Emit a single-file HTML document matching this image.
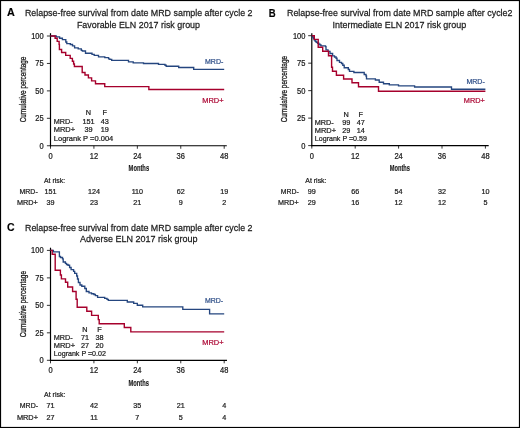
<!DOCTYPE html>
<html><head><meta charset="utf-8"><style>
html,body{margin:0;padding:0;background:#fff;}
body{width:520px;height:428px;overflow:hidden;}
svg{display:block;font-family:"Liberation Sans", sans-serif;will-change:transform;}
</style></head><body>
<svg width="520" height="428" viewBox="0 0 520 428">
<rect x="0" y="0" width="520" height="428" fill="#fff"/>
<text transform="translate(7.00,16.35) scale(1,1.08)" font-size="10.6" text-anchor="start" fill="#000" font-weight="bold" textLength="7.80" lengthAdjust="spacingAndGlyphs" stroke="#000" stroke-width="0.15">A</text>
<text transform="translate(24.90,16.45) scale(1,1.14)" font-size="8.7" text-anchor="start" fill="#1c1c1c" font-weight="normal" textLength="227.60" lengthAdjust="spacingAndGlyphs" stroke="#1c1c1c" stroke-width="0.22">Relapse-free survival from date MRD sample after cycle 2</text>
<text transform="translate(76.90,27.70) scale(1,1.14)" font-size="8.7" text-anchor="start" fill="#1c1c1c" font-weight="normal" textLength="123.10" lengthAdjust="spacingAndGlyphs" stroke="#1c1c1c" stroke-width="0.22">Favorable ELN 2017 risk group</text>
<line x1="50.50" y1="33.20" x2="50.50" y2="146.35" stroke="#000" stroke-width="1.2"/>
<line x1="49.90" y1="145.75" x2="226.80" y2="145.75" stroke="#000" stroke-width="1.2"/>
<line x1="46.90" y1="145.75" x2="50.50" y2="145.75" stroke="#000" stroke-width="0.8"/>
<text transform="translate(43.70,148.65) scale(1,1.1)" font-size="7.5" text-anchor="end" fill="#1c1c1c" font-weight="normal" stroke="#1c1c1c" stroke-width="0.22">0</text>
<line x1="46.90" y1="118.31" x2="50.50" y2="118.31" stroke="#000" stroke-width="0.8"/>
<text transform="translate(43.70,121.21) scale(1,1.1)" font-size="7.5" text-anchor="end" fill="#1c1c1c" font-weight="normal" stroke="#1c1c1c" stroke-width="0.22">25</text>
<line x1="46.90" y1="90.88" x2="50.50" y2="90.88" stroke="#000" stroke-width="0.8"/>
<text transform="translate(43.70,93.78) scale(1,1.1)" font-size="7.5" text-anchor="end" fill="#1c1c1c" font-weight="normal" stroke="#1c1c1c" stroke-width="0.22">50</text>
<line x1="46.90" y1="63.44" x2="50.50" y2="63.44" stroke="#000" stroke-width="0.8"/>
<text transform="translate(43.70,66.34) scale(1,1.1)" font-size="7.5" text-anchor="end" fill="#1c1c1c" font-weight="normal" stroke="#1c1c1c" stroke-width="0.22">75</text>
<line x1="46.90" y1="36.00" x2="50.50" y2="36.00" stroke="#000" stroke-width="0.8"/>
<text transform="translate(43.70,38.90) scale(1,1.1)" font-size="7.5" text-anchor="end" fill="#1c1c1c" font-weight="normal" stroke="#1c1c1c" stroke-width="0.22">100</text>
<line x1="50.50" y1="145.75" x2="50.50" y2="148.75" stroke="#000" stroke-width="0.8"/>
<text transform="translate(50.50,158.50) scale(1,1.1)" font-size="7.5" text-anchor="middle" fill="#1c1c1c" font-weight="normal" stroke="#1c1c1c" stroke-width="0.22">0</text>
<line x1="93.92" y1="145.75" x2="93.92" y2="148.75" stroke="#000" stroke-width="0.8"/>
<text transform="translate(93.92,158.50) scale(1,1.1)" font-size="7.5" text-anchor="middle" fill="#1c1c1c" font-weight="normal" stroke="#1c1c1c" stroke-width="0.22">12</text>
<line x1="137.35" y1="145.75" x2="137.35" y2="148.75" stroke="#000" stroke-width="0.8"/>
<text transform="translate(137.35,158.50) scale(1,1.1)" font-size="7.5" text-anchor="middle" fill="#1c1c1c" font-weight="normal" stroke="#1c1c1c" stroke-width="0.22">24</text>
<line x1="180.78" y1="145.75" x2="180.78" y2="148.75" stroke="#000" stroke-width="0.8"/>
<text transform="translate(180.78,158.50) scale(1,1.1)" font-size="7.5" text-anchor="middle" fill="#1c1c1c" font-weight="normal" stroke="#1c1c1c" stroke-width="0.22">36</text>
<line x1="224.20" y1="145.75" x2="224.20" y2="148.75" stroke="#000" stroke-width="0.8"/>
<text transform="translate(224.20,158.50) scale(1,1.1)" font-size="7.5" text-anchor="middle" fill="#1c1c1c" font-weight="normal" stroke="#1c1c1c" stroke-width="0.22">48</text>
<text transform="translate(128.60,171.20) scale(1,1.0)" font-size="8.8" text-anchor="start" fill="#1a1a1a" font-weight="bold" textLength="20.50" lengthAdjust="spacingAndGlyphs" stroke="#1a1a1a" stroke-width="0.15">Months</text>
<text transform="translate(26.30,122.30) rotate(-90)" x="0" y="0" font-size="8.7" fill="#1c1c1c" stroke="#1c1c1c" stroke-width="0.3" textLength="65.60" lengthAdjust="spacingAndGlyphs">Cumulative percentage</text>
<text transform="translate(88.50,115.10) scale(1,1.1)" font-size="7.3" text-anchor="middle" fill="#1c1c1c" font-weight="normal" stroke="#1c1c1c" stroke-width="0.22">N</text>
<text transform="translate(104.80,115.10) scale(1,1.1)" font-size="7.3" text-anchor="middle" fill="#1c1c1c" font-weight="normal" stroke="#1c1c1c" stroke-width="0.22">F</text>
<text transform="translate(53.80,124.20) scale(1,1.1)" font-size="7.3" text-anchor="start" fill="#1c1c1c" font-weight="normal" textLength="18.90" lengthAdjust="spacingAndGlyphs" stroke="#1c1c1c" stroke-width="0.22">MRD-</text>
<text transform="translate(53.80,131.90) scale(1,1.1)" font-size="7.3" text-anchor="start" fill="#1c1c1c" font-weight="normal" textLength="21.30" lengthAdjust="spacingAndGlyphs" stroke="#1c1c1c" stroke-width="0.22">MRD+</text>
<text transform="translate(88.50,124.20) scale(1,1.1)" font-size="7.3" text-anchor="middle" fill="#1c1c1c" font-weight="normal" stroke="#1c1c1c" stroke-width="0.22">151</text>
<text transform="translate(104.80,124.20) scale(1,1.1)" font-size="7.3" text-anchor="middle" fill="#1c1c1c" font-weight="normal" stroke="#1c1c1c" stroke-width="0.22">43</text>
<text transform="translate(88.50,131.90) scale(1,1.1)" font-size="7.3" text-anchor="middle" fill="#1c1c1c" font-weight="normal" stroke="#1c1c1c" stroke-width="0.22">39</text>
<text transform="translate(104.80,131.90) scale(1,1.1)" font-size="7.3" text-anchor="middle" fill="#1c1c1c" font-weight="normal" stroke="#1c1c1c" stroke-width="0.22">19</text>
<text transform="translate(53.80,140.50) scale(1,1.1)" font-size="7.3" text-anchor="start" fill="#1c1c1c" font-weight="normal" textLength="59.50" lengthAdjust="spacingAndGlyphs" stroke="#1c1c1c" stroke-width="0.22">Logrank P =0.004</text>
<text transform="translate(205.00,64.30) scale(1,1.1)" font-size="7.3" text-anchor="start" fill="#2f4f88" font-weight="normal" textLength="18.30" lengthAdjust="spacingAndGlyphs" stroke="#2f4f88" stroke-width="0.22">MRD-</text>
<text transform="translate(202.20,102.70) scale(1,1.1)" font-size="7.3" text-anchor="start" fill="#ad0a36" font-weight="normal" textLength="21.30" lengthAdjust="spacingAndGlyphs" stroke="#ad0a36" stroke-width="0.22">MRD+</text>
<text transform="translate(44.00,182.80) scale(1,1.1)" font-size="7.2" text-anchor="start" fill="#1c1c1c" font-weight="normal" textLength="21.10" lengthAdjust="spacingAndGlyphs" stroke="#1c1c1c" stroke-width="0.22">At risk:</text>
<text transform="translate(19.50,193.90) scale(1,1.1)" font-size="7.2" text-anchor="start" fill="#1c1c1c" font-weight="normal" textLength="18.20" lengthAdjust="spacingAndGlyphs" stroke="#1c1c1c" stroke-width="0.22">MRD-</text>
<text transform="translate(16.90,204.80) scale(1,1.1)" font-size="7.2" text-anchor="start" fill="#1c1c1c" font-weight="normal" textLength="20.80" lengthAdjust="spacingAndGlyphs" stroke="#1c1c1c" stroke-width="0.22">MRD+</text>
<text transform="translate(50.50,193.90) scale(1,1.1)" font-size="7.2" text-anchor="middle" fill="#1c1c1c" font-weight="normal" stroke="#1c1c1c" stroke-width="0.22">151</text>
<text transform="translate(50.50,204.80) scale(1,1.1)" font-size="7.2" text-anchor="middle" fill="#1c1c1c" font-weight="normal" stroke="#1c1c1c" stroke-width="0.22">39</text>
<text transform="translate(93.92,193.90) scale(1,1.1)" font-size="7.2" text-anchor="middle" fill="#1c1c1c" font-weight="normal" stroke="#1c1c1c" stroke-width="0.22">124</text>
<text transform="translate(93.92,204.80) scale(1,1.1)" font-size="7.2" text-anchor="middle" fill="#1c1c1c" font-weight="normal" stroke="#1c1c1c" stroke-width="0.22">23</text>
<text transform="translate(137.35,193.90) scale(1,1.1)" font-size="7.2" text-anchor="middle" fill="#1c1c1c" font-weight="normal" stroke="#1c1c1c" stroke-width="0.22">110</text>
<text transform="translate(137.35,204.80) scale(1,1.1)" font-size="7.2" text-anchor="middle" fill="#1c1c1c" font-weight="normal" stroke="#1c1c1c" stroke-width="0.22">21</text>
<text transform="translate(180.78,193.90) scale(1,1.1)" font-size="7.2" text-anchor="middle" fill="#1c1c1c" font-weight="normal" stroke="#1c1c1c" stroke-width="0.22">62</text>
<text transform="translate(180.78,204.80) scale(1,1.1)" font-size="7.2" text-anchor="middle" fill="#1c1c1c" font-weight="normal" stroke="#1c1c1c" stroke-width="0.22">9</text>
<text transform="translate(224.20,193.90) scale(1,1.1)" font-size="7.2" text-anchor="middle" fill="#1c1c1c" font-weight="normal" stroke="#1c1c1c" stroke-width="0.22">19</text>
<text transform="translate(224.20,204.80) scale(1,1.1)" font-size="7.2" text-anchor="middle" fill="#1c1c1c" font-weight="normal" stroke="#1c1c1c" stroke-width="0.22">2</text>
<path d="M50.50 36.00 H56.20 V36.80 H59.60 V38.20 H62.40 V39.60 H65.80 V42.00 H66.80 V43.60 H70.30 V44.50 H72.50 V45.80 H74.60 V47.80 H78.20 V48.90 H81.30 V50.40 H82.40 V51.00 H85.50 V53.20 H92.00 V54.30 H94.20 V55.30 H98.50 V56.80 H104.80 V57.60 H108.60 V58.80 H109.80 V59.40 H111.70 V60.40 H128.50 V61.90 H133.20 V62.80 H143.50 V63.50 H158.50 V64.30 H165.00 V65.20 H166.20 V66.20 H178.70 V67.50 H193.70 V69.40 H224.20" fill="none" stroke="#25467f" stroke-width="1.35" stroke-linejoin="miter" stroke-linecap="butt"/>
<path d="M50.50 36.00 H55.10 V38.30 H57.20 V41.40 H59.10 V44.40 H59.40 V49.50 H61.60 V52.50 H65.70 V55.40 H70.20 V58.40 H72.40 V61.30 H73.60 V64.00 H74.40 V66.50 H82.20 V72.50 H85.00 V75.00 H88.40 V77.90 H91.60 V80.90 H95.50 V83.70 H104.75 V86.60 H148.85 V89.45 H224.20" fill="none" stroke="#a6002c" stroke-width="1.4" stroke-linejoin="miter" stroke-linecap="butt"/>
<text transform="translate(268.75,16.60) scale(1,1.08)" font-size="10.6" text-anchor="start" fill="#000" font-weight="bold" textLength="6.90" lengthAdjust="spacingAndGlyphs" stroke="#000" stroke-width="0.15">B</text>
<text transform="translate(287.00,16.45) scale(1,1.14)" font-size="8.7" text-anchor="start" fill="#1c1c1c" font-weight="normal" textLength="225.50" lengthAdjust="spacingAndGlyphs" stroke="#1c1c1c" stroke-width="0.22">Relapse-free survival from date MRD sample after cycle2</text>
<text transform="translate(332.50,27.70) scale(1,1.14)" font-size="8.7" text-anchor="start" fill="#1c1c1c" font-weight="normal" textLength="133.75" lengthAdjust="spacingAndGlyphs" stroke="#1c1c1c" stroke-width="0.22">Intermediate ELN 2017 risk group</text>
<line x1="311.80" y1="33.20" x2="311.80" y2="146.20" stroke="#000" stroke-width="1.2"/>
<line x1="311.20" y1="145.60" x2="488.70" y2="145.60" stroke="#000" stroke-width="1.2"/>
<line x1="308.20" y1="145.60" x2="311.80" y2="145.60" stroke="#000" stroke-width="0.8"/>
<text transform="translate(305.40,148.50) scale(1,1.1)" font-size="7.5" text-anchor="end" fill="#1c1c1c" font-weight="normal" stroke="#1c1c1c" stroke-width="0.22">0</text>
<line x1="308.20" y1="118.12" x2="311.80" y2="118.12" stroke="#000" stroke-width="0.8"/>
<text transform="translate(305.40,121.03) scale(1,1.1)" font-size="7.5" text-anchor="end" fill="#1c1c1c" font-weight="normal" stroke="#1c1c1c" stroke-width="0.22">25</text>
<line x1="308.20" y1="90.65" x2="311.80" y2="90.65" stroke="#000" stroke-width="0.8"/>
<text transform="translate(305.40,93.55) scale(1,1.1)" font-size="7.5" text-anchor="end" fill="#1c1c1c" font-weight="normal" stroke="#1c1c1c" stroke-width="0.22">50</text>
<line x1="308.20" y1="63.17" x2="311.80" y2="63.17" stroke="#000" stroke-width="0.8"/>
<text transform="translate(305.40,66.08) scale(1,1.1)" font-size="7.5" text-anchor="end" fill="#1c1c1c" font-weight="normal" stroke="#1c1c1c" stroke-width="0.22">75</text>
<line x1="308.20" y1="35.70" x2="311.80" y2="35.70" stroke="#000" stroke-width="0.8"/>
<text transform="translate(305.40,38.60) scale(1,1.1)" font-size="7.5" text-anchor="end" fill="#1c1c1c" font-weight="normal" stroke="#1c1c1c" stroke-width="0.22">100</text>
<line x1="311.80" y1="145.60" x2="311.80" y2="148.60" stroke="#000" stroke-width="0.8"/>
<text transform="translate(311.80,158.50) scale(1,1.1)" font-size="7.5" text-anchor="middle" fill="#1c1c1c" font-weight="normal" stroke="#1c1c1c" stroke-width="0.22">0</text>
<line x1="355.20" y1="145.60" x2="355.20" y2="148.60" stroke="#000" stroke-width="0.8"/>
<text transform="translate(355.20,158.50) scale(1,1.1)" font-size="7.5" text-anchor="middle" fill="#1c1c1c" font-weight="normal" stroke="#1c1c1c" stroke-width="0.22">12</text>
<line x1="398.60" y1="145.60" x2="398.60" y2="148.60" stroke="#000" stroke-width="0.8"/>
<text transform="translate(398.60,158.50) scale(1,1.1)" font-size="7.5" text-anchor="middle" fill="#1c1c1c" font-weight="normal" stroke="#1c1c1c" stroke-width="0.22">24</text>
<line x1="442.00" y1="145.60" x2="442.00" y2="148.60" stroke="#000" stroke-width="0.8"/>
<text transform="translate(442.00,158.50) scale(1,1.1)" font-size="7.5" text-anchor="middle" fill="#1c1c1c" font-weight="normal" stroke="#1c1c1c" stroke-width="0.22">36</text>
<line x1="485.40" y1="145.60" x2="485.40" y2="148.60" stroke="#000" stroke-width="0.8"/>
<text transform="translate(485.40,158.50) scale(1,1.1)" font-size="7.5" text-anchor="middle" fill="#1c1c1c" font-weight="normal" stroke="#1c1c1c" stroke-width="0.22">48</text>
<text transform="translate(389.80,171.20) scale(1,1.0)" font-size="8.8" text-anchor="start" fill="#1a1a1a" font-weight="bold" textLength="20.20" lengthAdjust="spacingAndGlyphs" stroke="#1a1a1a" stroke-width="0.15">Months</text>
<text transform="translate(287.40,122.30) rotate(-90)" x="0" y="0" font-size="8.7" fill="#1c1c1c" stroke="#1c1c1c" stroke-width="0.3" textLength="66.40" lengthAdjust="spacingAndGlyphs">Cumulative percentage</text>
<text transform="translate(346.20,116.80) scale(1,1.1)" font-size="7.3" text-anchor="middle" fill="#1c1c1c" font-weight="normal" stroke="#1c1c1c" stroke-width="0.22">N</text>
<text transform="translate(360.80,116.80) scale(1,1.1)" font-size="7.3" text-anchor="middle" fill="#1c1c1c" font-weight="normal" stroke="#1c1c1c" stroke-width="0.22">F</text>
<text transform="translate(314.80,124.90) scale(1,1.1)" font-size="7.3" text-anchor="start" fill="#1c1c1c" font-weight="normal" textLength="18.90" lengthAdjust="spacingAndGlyphs" stroke="#1c1c1c" stroke-width="0.22">MRD-</text>
<text transform="translate(314.80,132.60) scale(1,1.1)" font-size="7.3" text-anchor="start" fill="#1c1c1c" font-weight="normal" textLength="21.30" lengthAdjust="spacingAndGlyphs" stroke="#1c1c1c" stroke-width="0.22">MRD+</text>
<text transform="translate(346.20,124.90) scale(1,1.1)" font-size="7.3" text-anchor="middle" fill="#1c1c1c" font-weight="normal" stroke="#1c1c1c" stroke-width="0.22">99</text>
<text transform="translate(360.80,124.90) scale(1,1.1)" font-size="7.3" text-anchor="middle" fill="#1c1c1c" font-weight="normal" stroke="#1c1c1c" stroke-width="0.22">47</text>
<text transform="translate(346.20,132.60) scale(1,1.1)" font-size="7.3" text-anchor="middle" fill="#1c1c1c" font-weight="normal" stroke="#1c1c1c" stroke-width="0.22">29</text>
<text transform="translate(360.80,132.60) scale(1,1.1)" font-size="7.3" text-anchor="middle" fill="#1c1c1c" font-weight="normal" stroke="#1c1c1c" stroke-width="0.22">14</text>
<text transform="translate(314.80,140.70) scale(1,1.1)" font-size="7.3" text-anchor="start" fill="#1c1c1c" font-weight="normal" textLength="52.10" lengthAdjust="spacingAndGlyphs" stroke="#1c1c1c" stroke-width="0.22">Logrank P =0.59</text>
<text transform="translate(466.40,84.20) scale(1,1.1)" font-size="7.3" text-anchor="start" fill="#2f4f88" font-weight="normal" textLength="18.40" lengthAdjust="spacingAndGlyphs" stroke="#2f4f88" stroke-width="0.22">MRD-</text>
<text transform="translate(463.80,102.70) scale(1,1.1)" font-size="7.3" text-anchor="start" fill="#ad0a36" font-weight="normal" textLength="21.00" lengthAdjust="spacingAndGlyphs" stroke="#ad0a36" stroke-width="0.22">MRD+</text>
<text transform="translate(305.30,182.80) scale(1,1.1)" font-size="7.2" text-anchor="start" fill="#1c1c1c" font-weight="normal" textLength="21.20" lengthAdjust="spacingAndGlyphs" stroke="#1c1c1c" stroke-width="0.22">At risk:</text>
<text transform="translate(280.80,193.90) scale(1,1.1)" font-size="7.2" text-anchor="start" fill="#1c1c1c" font-weight="normal" textLength="17.90" lengthAdjust="spacingAndGlyphs" stroke="#1c1c1c" stroke-width="0.22">MRD-</text>
<text transform="translate(278.10,204.80) scale(1,1.1)" font-size="7.2" text-anchor="start" fill="#1c1c1c" font-weight="normal" textLength="20.60" lengthAdjust="spacingAndGlyphs" stroke="#1c1c1c" stroke-width="0.22">MRD+</text>
<text transform="translate(311.80,193.90) scale(1,1.1)" font-size="7.2" text-anchor="middle" fill="#1c1c1c" font-weight="normal" stroke="#1c1c1c" stroke-width="0.22">99</text>
<text transform="translate(311.80,204.80) scale(1,1.1)" font-size="7.2" text-anchor="middle" fill="#1c1c1c" font-weight="normal" stroke="#1c1c1c" stroke-width="0.22">29</text>
<text transform="translate(355.20,193.90) scale(1,1.1)" font-size="7.2" text-anchor="middle" fill="#1c1c1c" font-weight="normal" stroke="#1c1c1c" stroke-width="0.22">66</text>
<text transform="translate(355.20,204.80) scale(1,1.1)" font-size="7.2" text-anchor="middle" fill="#1c1c1c" font-weight="normal" stroke="#1c1c1c" stroke-width="0.22">16</text>
<text transform="translate(398.60,193.90) scale(1,1.1)" font-size="7.2" text-anchor="middle" fill="#1c1c1c" font-weight="normal" stroke="#1c1c1c" stroke-width="0.22">54</text>
<text transform="translate(398.60,204.80) scale(1,1.1)" font-size="7.2" text-anchor="middle" fill="#1c1c1c" font-weight="normal" stroke="#1c1c1c" stroke-width="0.22">12</text>
<text transform="translate(442.00,193.90) scale(1,1.1)" font-size="7.2" text-anchor="middle" fill="#1c1c1c" font-weight="normal" stroke="#1c1c1c" stroke-width="0.22">32</text>
<text transform="translate(442.00,204.80) scale(1,1.1)" font-size="7.2" text-anchor="middle" fill="#1c1c1c" font-weight="normal" stroke="#1c1c1c" stroke-width="0.22">12</text>
<text transform="translate(485.40,193.90) scale(1,1.1)" font-size="7.2" text-anchor="middle" fill="#1c1c1c" font-weight="normal" stroke="#1c1c1c" stroke-width="0.22">10</text>
<text transform="translate(485.40,204.80) scale(1,1.1)" font-size="7.2" text-anchor="middle" fill="#1c1c1c" font-weight="normal" stroke="#1c1c1c" stroke-width="0.22">5</text>
<path d="M311.80 35.70 H312.50 V37.00 H313.30 V38.50 H314.30 V40.00 H315.20 V41.20 H316.20 V42.20 H317.50 V43.20 H318.80 V44.20 H320.00 V45.00 H321.00 V45.80 H325.50 V46.60 H326.00 V49.80 H328.00 V51.30 H330.00 V53.50 H332.60 V55.90 H334.50 V57.00 H336.10 V58.20 H337.00 V60.50 H339.50 V62.40 H341.50 V63.50 H342.80 V65.20 H344.20 V67.70 H348.30 V69.50 H349.50 V71.30 H353.90 V72.50 H364.20 V74.50 H366.00 V76.00 H366.50 V78.90 H375.40 V80.00 H379.20 V82.20 H383.50 V83.70 H389.30 V84.80 H398.50 V85.80 H414.60 V87.00 H451.50 V89.20 H485.40" fill="none" stroke="#25467f" stroke-width="1.35" stroke-linejoin="miter" stroke-linecap="butt"/>
<path d="M311.80 35.70 H314.30 V39.40 H318.20 V47.30 H322.70 V51.30 H328.50 V55.70 H331.60 V67.20 H332.50 V71.30 H336.40 V75.30 H343.60 V79.00 H352.00 V82.80 H358.50 V86.80 H378.50 V91.30 H485.40" fill="none" stroke="#a6002c" stroke-width="1.4" stroke-linejoin="miter" stroke-linecap="butt"/>
<text transform="translate(7.00,230.90) scale(1,1.08)" font-size="10.6" text-anchor="start" fill="#000" font-weight="bold" textLength="7.60" lengthAdjust="spacingAndGlyphs" stroke="#000" stroke-width="0.15">C</text>
<text transform="translate(25.00,230.85) scale(1,1.14)" font-size="8.7" text-anchor="start" fill="#1c1c1c" font-weight="normal" textLength="227.50" lengthAdjust="spacingAndGlyphs" stroke="#1c1c1c" stroke-width="0.22">Relapse-free survival from date MRD sample after cycle 2</text>
<text transform="translate(80.00,242.00) scale(1,1.14)" font-size="8.7" text-anchor="start" fill="#1c1c1c" font-weight="normal" textLength="117.50" lengthAdjust="spacingAndGlyphs" stroke="#1c1c1c" stroke-width="0.22">Adverse ELN 2017 risk group</text>
<line x1="50.50" y1="247.70" x2="50.50" y2="360.90" stroke="#000" stroke-width="1.2"/>
<line x1="49.90" y1="360.30" x2="227.00" y2="360.30" stroke="#000" stroke-width="1.2"/>
<line x1="46.90" y1="360.30" x2="50.50" y2="360.30" stroke="#000" stroke-width="0.8"/>
<text transform="translate(43.60,363.20) scale(1,1.1)" font-size="7.5" text-anchor="end" fill="#1c1c1c" font-weight="normal" stroke="#1c1c1c" stroke-width="0.22">0</text>
<line x1="46.90" y1="332.82" x2="50.50" y2="332.82" stroke="#000" stroke-width="0.8"/>
<text transform="translate(43.60,335.72) scale(1,1.1)" font-size="7.5" text-anchor="end" fill="#1c1c1c" font-weight="normal" stroke="#1c1c1c" stroke-width="0.22">25</text>
<line x1="46.90" y1="305.35" x2="50.50" y2="305.35" stroke="#000" stroke-width="0.8"/>
<text transform="translate(43.60,308.25) scale(1,1.1)" font-size="7.5" text-anchor="end" fill="#1c1c1c" font-weight="normal" stroke="#1c1c1c" stroke-width="0.22">50</text>
<line x1="46.90" y1="277.88" x2="50.50" y2="277.88" stroke="#000" stroke-width="0.8"/>
<text transform="translate(43.60,280.77) scale(1,1.1)" font-size="7.5" text-anchor="end" fill="#1c1c1c" font-weight="normal" stroke="#1c1c1c" stroke-width="0.22">75</text>
<line x1="46.90" y1="250.40" x2="50.50" y2="250.40" stroke="#000" stroke-width="0.8"/>
<text transform="translate(43.60,253.30) scale(1,1.1)" font-size="7.5" text-anchor="end" fill="#1c1c1c" font-weight="normal" stroke="#1c1c1c" stroke-width="0.22">100</text>
<line x1="50.50" y1="360.30" x2="50.50" y2="363.30" stroke="#000" stroke-width="0.8"/>
<text transform="translate(50.50,372.90) scale(1,1.1)" font-size="7.5" text-anchor="middle" fill="#1c1c1c" font-weight="normal" stroke="#1c1c1c" stroke-width="0.22">0</text>
<line x1="93.92" y1="360.30" x2="93.92" y2="363.30" stroke="#000" stroke-width="0.8"/>
<text transform="translate(93.92,372.90) scale(1,1.1)" font-size="7.5" text-anchor="middle" fill="#1c1c1c" font-weight="normal" stroke="#1c1c1c" stroke-width="0.22">12</text>
<line x1="137.35" y1="360.30" x2="137.35" y2="363.30" stroke="#000" stroke-width="0.8"/>
<text transform="translate(137.35,372.90) scale(1,1.1)" font-size="7.5" text-anchor="middle" fill="#1c1c1c" font-weight="normal" stroke="#1c1c1c" stroke-width="0.22">24</text>
<line x1="180.78" y1="360.30" x2="180.78" y2="363.30" stroke="#000" stroke-width="0.8"/>
<text transform="translate(180.78,372.90) scale(1,1.1)" font-size="7.5" text-anchor="middle" fill="#1c1c1c" font-weight="normal" stroke="#1c1c1c" stroke-width="0.22">36</text>
<line x1="224.20" y1="360.30" x2="224.20" y2="363.30" stroke="#000" stroke-width="0.8"/>
<text transform="translate(224.20,372.90) scale(1,1.1)" font-size="7.5" text-anchor="middle" fill="#1c1c1c" font-weight="normal" stroke="#1c1c1c" stroke-width="0.22">48</text>
<text transform="translate(128.60,385.50) scale(1,1.0)" font-size="8.8" text-anchor="start" fill="#1a1a1a" font-weight="bold" textLength="20.30" lengthAdjust="spacingAndGlyphs" stroke="#1a1a1a" stroke-width="0.15">Months</text>
<text transform="translate(26.30,337.30) rotate(-90)" x="0" y="0" font-size="8.7" fill="#1c1c1c" stroke="#1c1c1c" stroke-width="0.3" textLength="66.30" lengthAdjust="spacingAndGlyphs">Cumulative percentage</text>
<text transform="translate(85.00,331.80) scale(1,1.1)" font-size="7.3" text-anchor="middle" fill="#1c1c1c" font-weight="normal" stroke="#1c1c1c" stroke-width="0.22">N</text>
<text transform="translate(99.60,331.80) scale(1,1.1)" font-size="7.3" text-anchor="middle" fill="#1c1c1c" font-weight="normal" stroke="#1c1c1c" stroke-width="0.22">F</text>
<text transform="translate(53.80,339.60) scale(1,1.1)" font-size="7.3" text-anchor="start" fill="#1c1c1c" font-weight="normal" textLength="18.90" lengthAdjust="spacingAndGlyphs" stroke="#1c1c1c" stroke-width="0.22">MRD-</text>
<text transform="translate(53.80,347.70) scale(1,1.1)" font-size="7.3" text-anchor="start" fill="#1c1c1c" font-weight="normal" textLength="21.30" lengthAdjust="spacingAndGlyphs" stroke="#1c1c1c" stroke-width="0.22">MRD+</text>
<text transform="translate(85.00,339.60) scale(1,1.1)" font-size="7.3" text-anchor="middle" fill="#1c1c1c" font-weight="normal" stroke="#1c1c1c" stroke-width="0.22">71</text>
<text transform="translate(99.60,339.60) scale(1,1.1)" font-size="7.3" text-anchor="middle" fill="#1c1c1c" font-weight="normal" stroke="#1c1c1c" stroke-width="0.22">38</text>
<text transform="translate(85.00,347.70) scale(1,1.1)" font-size="7.3" text-anchor="middle" fill="#1c1c1c" font-weight="normal" stroke="#1c1c1c" stroke-width="0.22">27</text>
<text transform="translate(99.60,347.70) scale(1,1.1)" font-size="7.3" text-anchor="middle" fill="#1c1c1c" font-weight="normal" stroke="#1c1c1c" stroke-width="0.22">20</text>
<text transform="translate(53.80,355.70) scale(1,1.1)" font-size="7.3" text-anchor="start" fill="#1c1c1c" font-weight="normal" textLength="52.10" lengthAdjust="spacingAndGlyphs" stroke="#1c1c1c" stroke-width="0.22">Logrank P =0.02</text>
<text transform="translate(205.00,302.60) scale(1,1.1)" font-size="7.3" text-anchor="start" fill="#2f4f88" font-weight="normal" textLength="18.20" lengthAdjust="spacingAndGlyphs" stroke="#2f4f88" stroke-width="0.22">MRD-</text>
<text transform="translate(202.20,344.80) scale(1,1.1)" font-size="7.3" text-anchor="start" fill="#ad0a36" font-weight="normal" textLength="21.30" lengthAdjust="spacingAndGlyphs" stroke="#ad0a36" stroke-width="0.22">MRD+</text>
<text transform="translate(44.00,397.10) scale(1,1.1)" font-size="7.2" text-anchor="start" fill="#1c1c1c" font-weight="normal" textLength="21.40" lengthAdjust="spacingAndGlyphs" stroke="#1c1c1c" stroke-width="0.22">At risk:</text>
<text transform="translate(19.80,407.90) scale(1,1.1)" font-size="7.2" text-anchor="start" fill="#1c1c1c" font-weight="normal" textLength="18.20" lengthAdjust="spacingAndGlyphs" stroke="#1c1c1c" stroke-width="0.22">MRD-</text>
<text transform="translate(16.90,419.50) scale(1,1.1)" font-size="7.2" text-anchor="start" fill="#1c1c1c" font-weight="normal" textLength="21.10" lengthAdjust="spacingAndGlyphs" stroke="#1c1c1c" stroke-width="0.22">MRD+</text>
<text transform="translate(50.50,407.90) scale(1,1.1)" font-size="7.2" text-anchor="middle" fill="#1c1c1c" font-weight="normal" stroke="#1c1c1c" stroke-width="0.22">71</text>
<text transform="translate(50.50,419.50) scale(1,1.1)" font-size="7.2" text-anchor="middle" fill="#1c1c1c" font-weight="normal" stroke="#1c1c1c" stroke-width="0.22">27</text>
<text transform="translate(93.92,407.90) scale(1,1.1)" font-size="7.2" text-anchor="middle" fill="#1c1c1c" font-weight="normal" stroke="#1c1c1c" stroke-width="0.22">42</text>
<text transform="translate(93.92,419.50) scale(1,1.1)" font-size="7.2" text-anchor="middle" fill="#1c1c1c" font-weight="normal" stroke="#1c1c1c" stroke-width="0.22">11</text>
<text transform="translate(137.35,407.90) scale(1,1.1)" font-size="7.2" text-anchor="middle" fill="#1c1c1c" font-weight="normal" stroke="#1c1c1c" stroke-width="0.22">35</text>
<text transform="translate(137.35,419.50) scale(1,1.1)" font-size="7.2" text-anchor="middle" fill="#1c1c1c" font-weight="normal" stroke="#1c1c1c" stroke-width="0.22">7</text>
<text transform="translate(180.78,407.90) scale(1,1.1)" font-size="7.2" text-anchor="middle" fill="#1c1c1c" font-weight="normal" stroke="#1c1c1c" stroke-width="0.22">21</text>
<text transform="translate(180.78,419.50) scale(1,1.1)" font-size="7.2" text-anchor="middle" fill="#1c1c1c" font-weight="normal" stroke="#1c1c1c" stroke-width="0.22">5</text>
<text transform="translate(224.20,407.90) scale(1,1.1)" font-size="7.2" text-anchor="middle" fill="#1c1c1c" font-weight="normal" stroke="#1c1c1c" stroke-width="0.22">4</text>
<text transform="translate(224.20,419.50) scale(1,1.1)" font-size="7.2" text-anchor="middle" fill="#1c1c1c" font-weight="normal" stroke="#1c1c1c" stroke-width="0.22">4</text>
<path d="M50.50 250.40 H53.40 V251.80 H59.40 V256.50 H60.50 V257.50 H62.50 V258.80 H63.20 V262.00 H65.40 V263.30 H66.50 V264.50 H68.00 V265.20 H69.60 V267.50 H71.10 V269.60 H73.60 V271.30 H74.70 V273.30 H76.70 V276.00 H77.50 V279.00 H78.40 V282.50 H80.00 V285.00 H81.80 V286.20 H84.80 V288.50 H86.30 V291.50 H89.00 V292.80 H91.50 V293.70 H93.90 V294.50 H95.40 V295.60 H97.60 V297.30 H104.70 V298.40 H107.00 V299.30 H108.30 V300.40 H127.30 V302.00 H133.70 V303.30 H137.30 V305.20 H142.70 V306.90 H182.80 V309.40 H209.60 V313.80 H224.20" fill="none" stroke="#25467f" stroke-width="1.35" stroke-linejoin="miter" stroke-linecap="butt"/>
<path d="M50.50 250.40 H52.20 V254.30 H55.20 V270.20 H60.40 V275.00 H61.40 V278.90 H65.50 V282.30 H67.70 V287.00 H72.60 V291.50 H76.10 V299.30 H77.20 V307.30 H86.80 V311.30 H91.60 V315.40 H98.30 V319.60 H99.20 V323.70 H124.30 V327.50 H130.80 V331.90 H224.20" fill="none" stroke="#a6002c" stroke-width="1.4" stroke-linejoin="miter" stroke-linecap="butt"/>
<rect x="0.55" y="0.55" width="518.9" height="426.9" fill="none" stroke="#000" stroke-width="1.1"/>
</svg>
</body></html>
